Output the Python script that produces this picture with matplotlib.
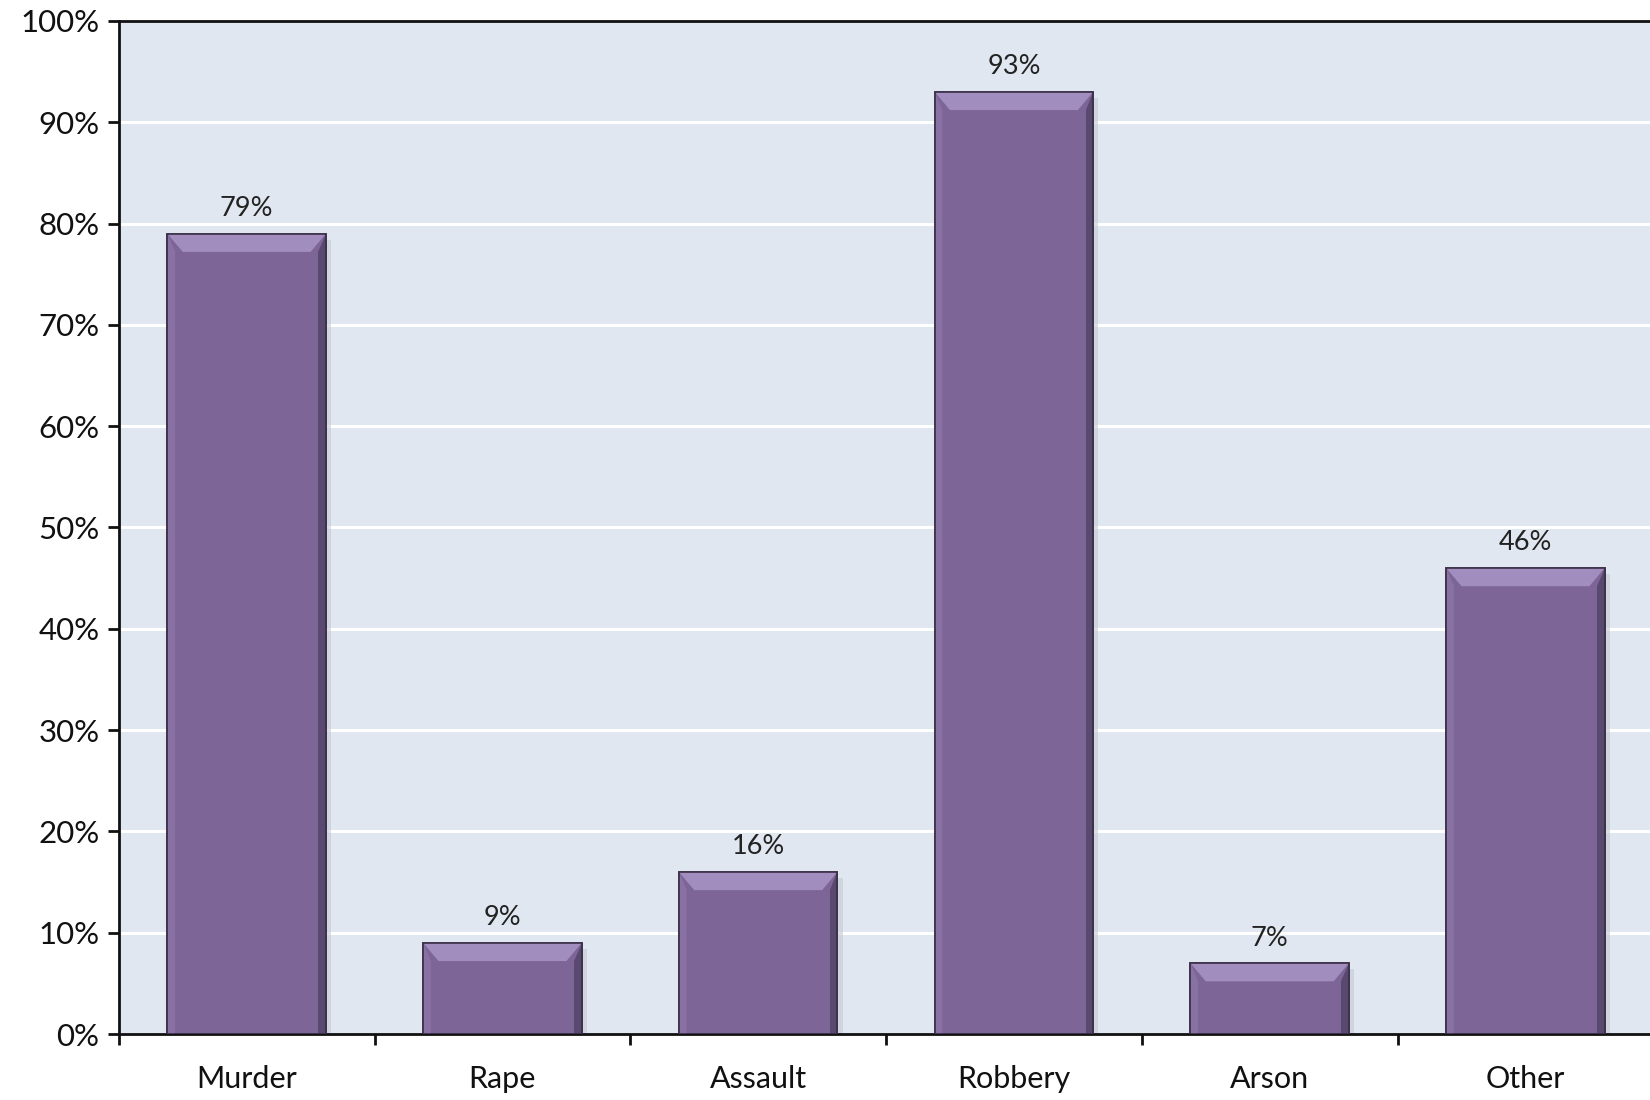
import matplotlib
matplotlib.use("Agg")
import matplotlib.pyplot as plt
from matplotlib.patches import Polygon, Rectangle
import numpy as np

categories = ["Murder", "Rape", "Assault", "Robbery", "Arson", "Other"]
values = [79, 9, 16, 93, 7, 46]
y_ticks = [0, 10, 20, 30, 40, 50, 60, 70, 80, 90, 100]

plt.rcParams["font.family"] = ["Lato", "DejaVu Sans"]

fig = plt.figure(figsize=(16.5, 11), dpi=100)
ax = fig.add_axes([0.072, 0.06, 0.93, 0.921])

bg = "#e1e7f1"
ax.set_facecolor(bg)
ax.set_xlim(-0.5, len(categories) - 0.5)
ax.set_ylim(0, 100)

# horizontal white gridlines
for t in y_ticks[1:-1]:
    ax.axhline(t, color="white", lw=2.2, zorder=1)

bar_w = 0.62
face = "#7d6697"
top_col = "#a28dbf"
right_col = "#4e3f63"
left_col = "#8c76a7"
edge = "#3b3048"
x = np.arange(len(categories))

bars = ax.bar(x, values, width=bar_w, color=face, edgecolor=edge,
              linewidth=1.2, zorder=3)

bx = 0.06   # bevel width (category units)
by = 1.8    # bevel height (percent units)
for rect, v in zip(bars, values):
    x0 = rect.get_x()
    x1 = x0 + rect.get_width()
    # soft drop shadow to the right
    ax.add_patch(Rectangle((x1, 0), 0.02, v - 0.6, color="#c3c9d4",
                           alpha=0.6, zorder=2, lw=0))
    # top bevel
    ax.add_patch(Polygon([(x0, v), (x1, v), (x1 - bx, v - by), (x0 + bx, v - by)],
                         closed=True, facecolor=top_col, edgecolor="none", zorder=4))
    # right bevel
    ax.add_patch(Polygon([(x1, v), (x1, 0), (x1 - bx * 0.5, 0), (x1 - bx * 0.5, v - by)],
                         closed=True, facecolor=right_col, edgecolor="none",
                         alpha=0.75, zorder=4))
    # left bevel
    ax.add_patch(Polygon([(x0, v), (x0 + bx * 0.5, v - by), (x0 + bx * 0.5, 0), (x0, 0)],
                         closed=True, facecolor=left_col, edgecolor="none",
                         alpha=0.8, zorder=4))
    # outline on top
    ax.add_patch(Rectangle((x0, 0), x1 - x0, v, fill=False, edgecolor=edge,
                           lw=1.2, zorder=5))
    ax.annotate(f"{v}%", (rect.get_x() + rect.get_width() / 2, v),
                xytext=(0, 9), textcoords="offset points",
                ha="center", va="bottom", fontsize=19.5, color="#222222", zorder=6)

# axes styling
for side in ["left", "bottom", "top"]:
    ax.spines[side].set_color("#111111")
    ax.spines[side].set_linewidth(2)
ax.spines["right"].set_visible(False)

ax.set_yticks(y_ticks)
ax.set_yticklabels([f"{t}%" for t in y_ticks], fontsize=22.5, color="#111111")
ax.set_xticks(np.arange(len(categories) + 1) - 0.5, minor=False)
ax.set_xticklabels([])
ax.set_xticks(x, minor=True)
ax.set_xticklabels(categories, minor=True, fontsize=22, color="#111111")
ax.tick_params(axis="x", which="major", length=8, width=2, direction="out", color="#111111")
ax.tick_params(axis="x", which="minor", length=0, pad=22)
ax.tick_params(axis="y", length=8, width=2, direction="out", color="#111111", pad=6)

fig.savefig("out.png", dpi=100, facecolor="white")
